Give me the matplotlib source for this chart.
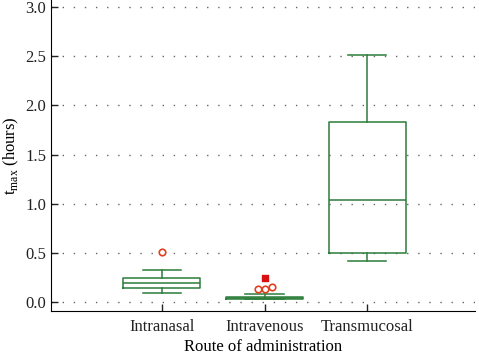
import matplotlib
matplotlib.use("Agg")
import matplotlib.pyplot as plt
import numpy as np

categories = ["Intranasal", "Intravenous", "Transmucosal"]
q1 = [0.142, 0.030, 0.495]
med = [0.193, 0.040, 1.040]
q3 = [0.244, 0.052, 1.830]
whislo = [0.095, 0.030, 0.417]
whishi = [0.326, 0.080, 2.510]
# mild outliers (category index, value, horizontal offset)
out_cat = [0, 1, 1, 1]
out_val = [0.505, 0.130, 0.130, 0.155]
out_off = [0.0, -0.065, 0.0, 0.07]
# extreme outliers
ext_cat = [1]
ext_val = [0.250]

green = "#2b7d3a"
red_o = "#e0401f"
red_s = "#d81010"

plt.rcParams['font.family'] = ['Liberation Serif', 'DejaVu Serif']
fig = plt.figure(figsize=(4.79, 3.54), dpi=100)
ax = fig.add_axes([0.1065, 0.1215, 0.885, 0.8785])

pos = np.arange(1, len(categories) + 1)
stats = []
for i in range(len(categories)):
    stats.append(dict(med=med[i], q1=q1[i], q3=q3[i], whislo=whislo[i], whishi=whishi[i], fliers=[]))
lp = dict(color=green, linewidth=1.1)
ax.bxp(stats, positions=pos, widths=0.75, showfliers=False,
       boxprops=lp, medianprops=lp, whiskerprops=lp, capprops=lp, capwidths=0.375)

ax.scatter(pos[out_cat] + np.array(out_off), out_val, s=22, facecolors='white',
           edgecolors=red_o, linewidths=1.2, zorder=5)
ax.scatter(pos[ext_cat], ext_val, s=22, marker='s', color=red_s, zorder=5)

ax.set_xlim(-0.08, 4.05)
ax.set_ylim(-0.09, 3.07)
ax.set_yticks(np.arange(0, 3.01, 0.5))
ax.set_yticklabels([f"{v:.1f}" for v in np.arange(0, 3.01, 0.5)])
ax.set_xticks(pos)
ax.set_xticklabels(categories)
ax.yaxis.grid(True, linestyle=(0, (1, 7)), color='#666666', linewidth=1.0)
ax.set_axisbelow(True)
for s in ['top', 'right']:
    ax.spines[s].set_visible(False)
ax.tick_params(direction='in', length=5, labelsize=12, colors='#222222', width=1)
ax.tick_params(axis='x', pad=6)
ax.set_ylabel(r"t$_{\mathregular{max}}$ (hours)", fontsize=12, labelpad=3)
ax.set_xlabel("Route of administration", fontsize=12, labelpad=3)

fig.savefig("out.png", dpi=100)
